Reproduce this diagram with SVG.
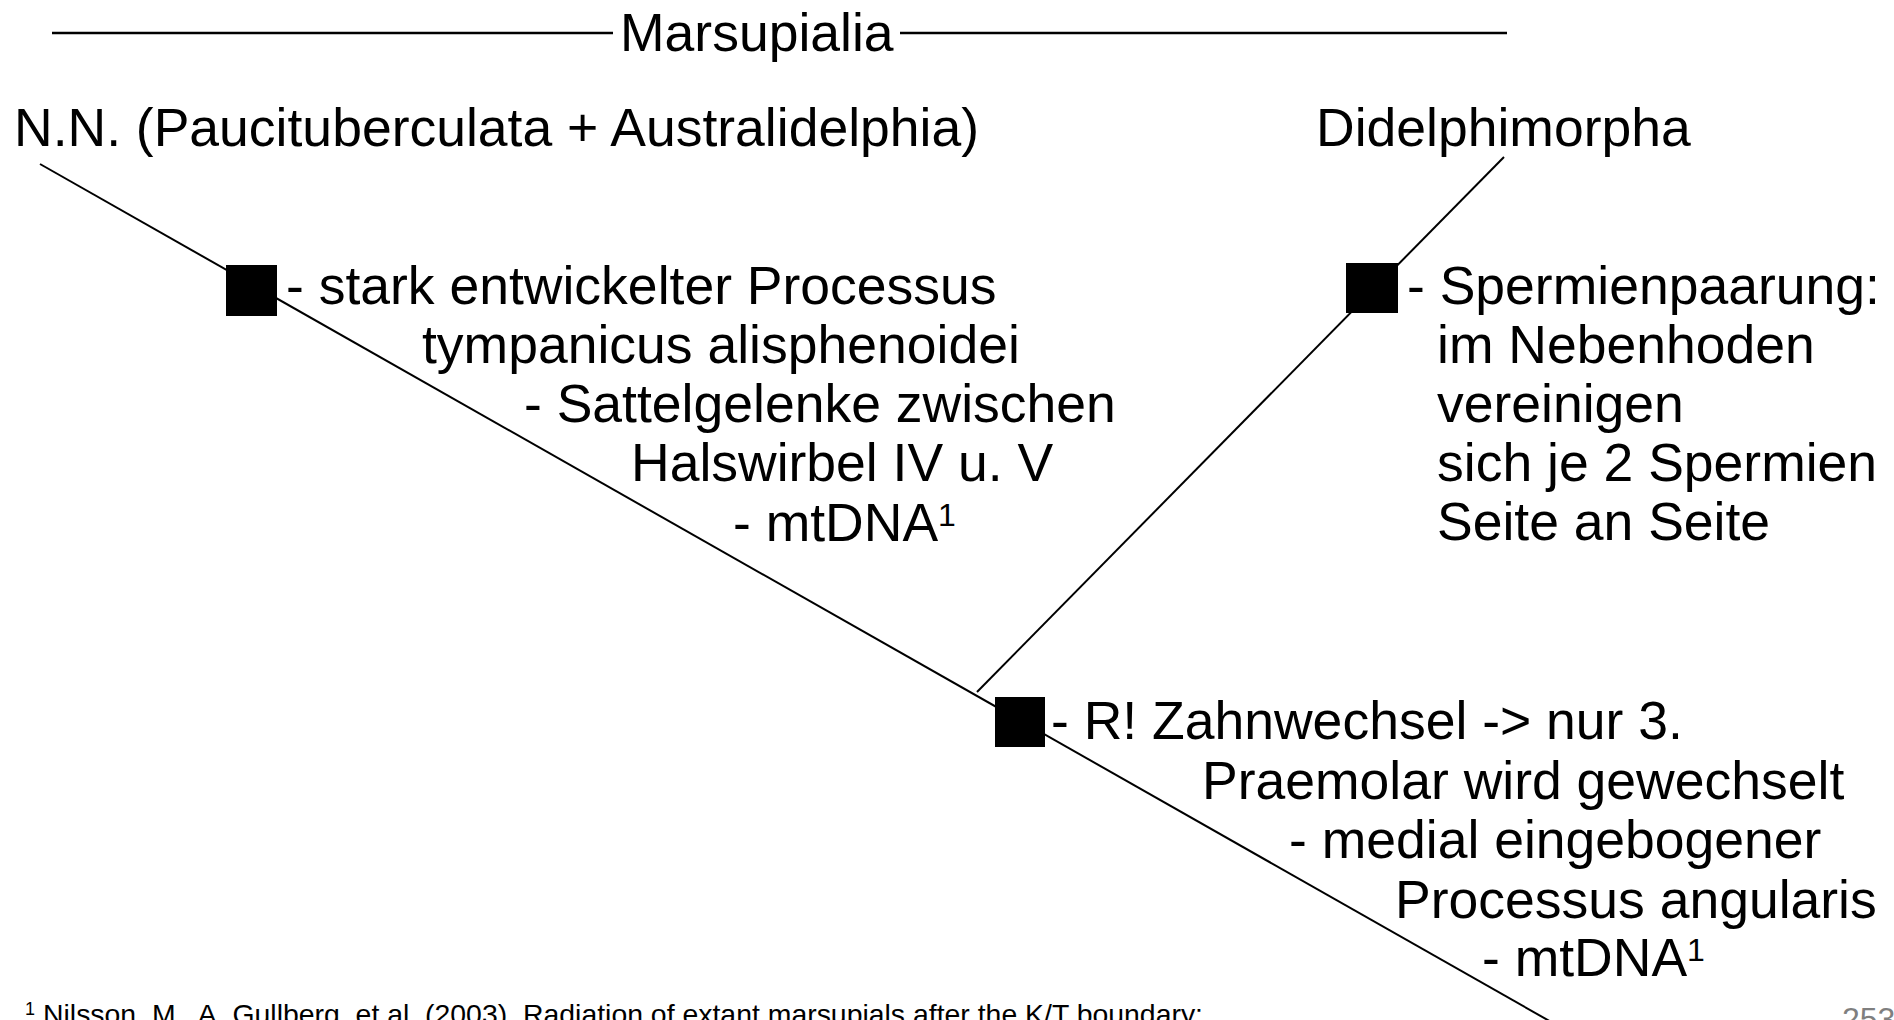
<svg xmlns="http://www.w3.org/2000/svg" width="1894" height="1020" viewBox="0 0 1894 1020">
  <style>
    text { font-family: "Liberation Sans", Arial, sans-serif; fill: #000; }
    .lbl { font-size: 53.5px; }
    .sup { font-size: 32px; }
    .foot { font-size: 28px; }
    .fsup { font-size: 18px; }
    .page { font-size: 32px; fill: #7f7f7f; }
    .branch { stroke: #000; stroke-width: 2; fill: none; }
    .bar { stroke: #000; stroke-width: 2.5; fill: none; }
    .apo { fill: #000; }
  </style>

  <!-- clade bracket across the top -->
  <g id="marsupialia">
    <line class="bar" x1="52" y1="33" x2="613" y2="33"/>
    <text class="lbl" x="620" y="51">Marsupialia</text>
    <line class="bar" x1="900" y1="33" x2="1507" y2="33"/>
  </g>

  <!-- tree branches -->
  <g id="connectors">
    <line class="branch" x1="40" y1="164" x2="1560" y2="1027"/>
    <line class="branch" x1="1504" y1="157" x2="977" y2="692"/>
  </g>

  <!-- terminal taxa -->
  <g id="taxon-nn">
    <text class="lbl" x="14" y="146">N.N. (Paucituberculata + Australidelphia)</text>
  </g>
  <g id="taxon-didelphimorpha">
    <text class="lbl" x="1316" y="146">Didelphimorpha</text>
  </g>

  <!-- apomorphy on the N.N. branch -->
  <g id="apo-nn">
    <rect class="apo" x="226" y="265" width="51" height="51"/>
    <text class="lbl" x="286" y="304">- stark entwickelter Processus</text>
    <text class="lbl" x="422" y="363">tympanicus alisphenoidei</text>
    <text class="lbl" x="524" y="422">- Sattelgelenke zwischen</text>
    <text class="lbl" x="631" y="481">Halswirbel IV u. V</text>
    <text class="lbl" x="733" y="541">- mtDNA<tspan class="sup" dy="-15">1</tspan></text>
  </g>

  <!-- apomorphy on the Didelphimorpha branch -->
  <g id="apo-didelphimorpha">
    <rect class="apo" x="1346" y="263" width="52" height="50"/>
    <text class="lbl" x="1407" y="304">- Spermienpaarung:</text>
    <text class="lbl" x="1437" y="363">im Nebenhoden</text>
    <text class="lbl" x="1437" y="422">vereinigen</text>
    <text class="lbl" x="1437" y="481">sich je 2 Spermien</text>
    <text class="lbl" x="1437" y="540">Seite an Seite</text>
  </g>

  <!-- apomorphy on the Marsupialia stem -->
  <g id="apo-marsupialia">
    <rect class="apo" x="995" y="697" width="50" height="50"/>
    <text class="lbl" x="1051" y="739">- R! Zahnwechsel -&gt; nur 3.</text>
    <text class="lbl" x="1202" y="799">Praemolar wird gewechselt</text>
    <text class="lbl" x="1289" y="858">- medial eingebogener</text>
    <text class="lbl" x="1395" y="918">Processus angularis</text>
    <text class="lbl" x="1482" y="976">- mtDNA<tspan class="sup" dy="-15">1</tspan></text>
  </g>

  <!-- footnote and page number -->
  <g id="footnote">
    <text class="fsup" x="25" y="1015">1</text>
    <text class="foot" x="43" y="1024" textLength="1160" lengthAdjust="spacingAndGlyphs">Nilsson, M., A. Gullberg, et al. (2003). Radiation of extant marsupials after the K/T boundary:</text>
  </g>
  <g id="page-number">
    <text class="page" x="1842" y="1030">253</text>
  </g>
</svg>
